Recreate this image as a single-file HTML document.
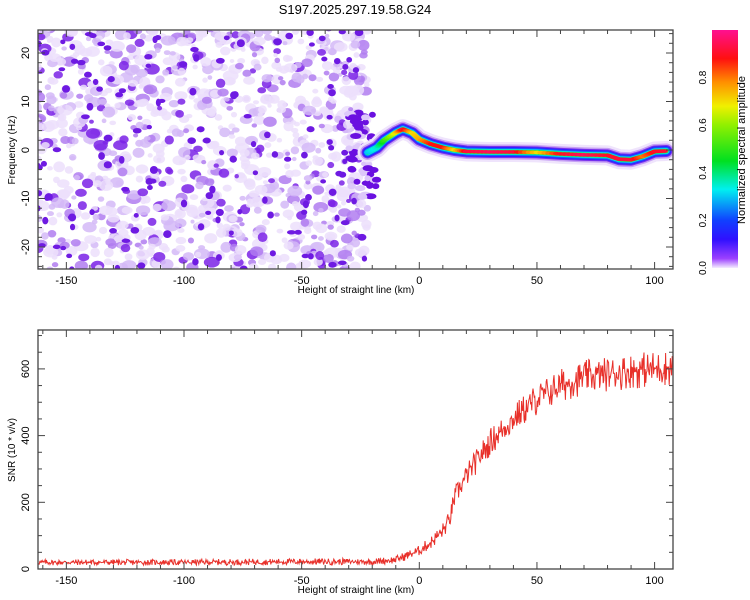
<!DOCTYPE html>
<html><head><meta charset="utf-8"><style>
body{margin:0;background:#fff;font-family:"Liberation Sans",sans-serif}
svg{display:block}
text{font-family:"Liberation Sans",sans-serif;font-size:11px;fill:#000}
</style></head><body>
<svg id="c" width="750" height="600">
<defs>
<linearGradient id="cb" x1="0" y1="1" x2="0" y2="0">
<stop offset="0" stop-color="#f4ecff"/><stop offset="0.04" stop-color="#9b40ff"/><stop offset="0.12" stop-color="#3010ff"/><stop offset="0.2" stop-color="#1040ff"/><stop offset="0.33" stop-color="#00f0f0"/><stop offset="0.45" stop-color="#00e020"/><stop offset="0.6" stop-color="#90f000"/><stop offset="0.68" stop-color="#f0f000"/><stop offset="0.78" stop-color="#ff9000"/><stop offset="0.88" stop-color="#ff1010"/><stop offset="1" stop-color="#ff1090"/>
</linearGradient>
<clipPath id="cp1"><rect x="38" y="30" width="635" height="239"/></clipPath>
<clipPath id="cp2"><rect x="38" y="330" width="635" height="239"/></clipPath>
</defs>
<text x="355" y="14" text-anchor="middle" style="font-size:13px">S197.2025.297.19.58.G24</text>
<g id="topg" clip-path="url(#cp1)"></g>
<g id="bot" clip-path="url(#cp2)"></g>
<g id="axes"></g>
<rect x="712" y="30" width="26" height="238" fill="url(#cb)"/>
<text transform="translate(745,150) rotate(-90)" text-anchor="middle">Normalized spectral amplitude</text>
</svg>
<script>
// ---- data ----
const ridgeHeight=[-22,-18,-15,-10,-7,-3,0,5,10,15,20,30,40,50,60,70,80,85,90,95,100,105];
const ridgeFreq=[-0.5,0.5,2,3.6,4.3,3.5,2.2,1.2,0.5,0,-0.3,-0.4,-0.4,-0.5,-0.8,-1.0,-1.1,-1.9,-2.0,-1.3,-0.3,-0.2];
const ridgeAmp=[0.3,0.35,0.5,0.7,0.92,0.7,0.75,0.88,0.88,0.7,0.92,0.95,0.92,0.7,0.9,0.95,0.9,0.92,0.92,0.8,0.9,0.92];
const snrHeight=[-162,-100,-50,-20,-10,0,5,10,13,15,20,25,30,40,50,60,70,80,90,100,108];
const snrValue=[20,20,22,22,28,55,80,115,150,215,280,330,380,450,510,550,575,585,595,600,605];
const snrNoise=[9,9,10,10,12,16,20,25,28,32,35,38,42,45,50,52,52,52,55,55,55];
const xTicks=[-150,-100,-50,0,50,100];
const fTicks=[-20,-10,0,10,20];
const snrTicks=[0,200,400,600];
const cbTicks=[0.0,0.2,0.4,0.6,0.8];
// ---- scales ----
const X=h=>419.3+(h)*2.353;
const F=f=>150-f*4.85;
const S=v=>569-v*0.3335;
const NS="http://www.w3.org/2000/svg";
function mk(t,a,p){const e=document.createElementNS(NS,t);for(const k in a)e.setAttribute(k,a[k]);(p||document.getElementById('c')).appendChild(e);return e;}
let seed=12345;function rnd(){seed=(seed*1103515245+12345)%2147483648;return seed/2147483648;}
function col(a){const st=[[0,[244,236,255]],[0.04,[155,64,255]],[0.12,[48,16,255]],[0.2,[16,64,255]],[0.33,[0,240,240]],[0.45,[0,224,32]],[0.6,[144,240,0]],[0.68,[240,240,0]],[0.78,[255,144,0]],[0.88,[255,16,16]],[1,[255,16,144]]];
for(let i=1;i<st.length;i++)if(a<=st[i][0]){const t=(a-st[i-1][0])/(st[i][0]-st[i-1][0]);const c=st[i-1][1].map((v,j)=>Math.round(v+(st[i][1][j]-v)*t));return`rgb(${c})`;}return'rgb(255,16,144)';}
const topG=document.getElementById('topg');
// noise texture
const ng=mk('g',{},topG);


for(let i=0;i<1100;i++){const h=-163+rnd()*141;const f=-25.5+rnd()*51;const a=rnd();
 const fill=a<0.5?'#ecdffc':a<0.75?'#d4b8f7':a<0.9?'#b07cf0':'#7a22e6';
 const r=2+rnd()*3.5;
 mk('ellipse',{cx:X(h),cy:F(f),rx:r*(1+rnd()*0.5),ry:r,fill:fill,opacity:0.85},ng);}
for(let i=0;i<140;i++){const h=-163+rnd()*141;const f=-25+rnd()*50;mk('ellipse',{cx:X(h),cy:F(f),rx:2.5+rnd()*2,ry:2+rnd()*2,fill:'#6e1ae2'},ng);}
for(let i=0;i<60;i++){const h=-30+rnd()*12;const f=-10+rnd()*18;mk('ellipse',{cx:X(h),cy:F(f),rx:3+rnd()*3,ry:3,fill:rnd()<0.5?'#6a10e0':'#ddc8fa'},ng);}
// ridge
const pts=ridgeHeight.map((h,i)=>X(h)+','+F(ridgeFreq[i])).join(' ');
[[20,'#efe4fc'],[15,'#c6a0f4'],[12,'#7a30ee'],[10,'#3020ff'],[8,'#1060ff'],[6,'#00e8e8'],[4.5,'#20e040'],[3,'#d0f000']].forEach(([w,c])=>{
 const p=mk('polyline',{points:pts,fill:'none',stroke:c,'stroke-width':w,'stroke-linejoin':'round','stroke-linecap':'round'},topG);
 
 });
for(let i=0;i<ridgeHeight.length-1;i++){for(let k=0;k<6;k++){const t=k/6;
 const h=ridgeHeight[i]+(ridgeHeight[i+1]-ridgeHeight[i])*t;const f=ridgeFreq[i]+(ridgeFreq[i+1]-ridgeFreq[i])*t;const a=ridgeAmp[i]+(ridgeAmp[i+1]-ridgeAmp[i])*t;
 const e=mk('ellipse',{cx:X(h),cy:F(f),rx:3.5,ry:1.8,fill:col(a)},topG);
 
 }}
// SNR line
function interp(arr,h){for(let i=1;i<snrHeight.length;i++)if(h<=snrHeight[i]){const t=(h-snrHeight[i-1])/(snrHeight[i]-snrHeight[i-1]);return arr[i-1]+(arr[i]-arr[i-1])*t;}return arr[arr.length-1];}
let sp=[];seed=777;
for(let px=38;px<=673;px+=0.6){const h=(px-419.3)/2.353;const r=rnd()*2-1;const v=interp(snrValue,h)+Math.sign(r)*Math.pow(Math.abs(r),1.5)*interp(snrNoise,h);sp.push(px.toFixed(1)+','+S(v).toFixed(1));}
const sl=mk('polyline',{points:sp.join(' '),fill:'none',stroke:'#e8302a','stroke-width':1},document.getElementById('bot'));


// axes
const ax=document.getElementById('axes');
function frame(y0,y1,name){const r=mk('rect',{x:38,y:y0,width:635,height:y1-y0,fill:'none',stroke:'#444','stroke-width':1.3},ax);
 
 
 for(let h=-160;h<=100;h+=10){const x=X(h);const L=(h%50==0)?7:4;mk('line',{x1:x,x2:x,y1:y1,y2:y1-L,stroke:'#444'},ax);mk('line',{x1:x,x2:x,y1:y0,y2:y0+L,stroke:'#444'},ax);}
 xTicks.forEach(h=>{const t=mk('text',{x:X(h),y:y1+15,'text-anchor':'middle'},ax);t.textContent=h;
  
  });
 const t=mk('text',{x:356,y:y1+24,'text-anchor':'middle',style:'font-size:10px'},ax);t.textContent='Height of straight line (km)';
 
 }
frame(30,269,'spectrogram-frame');frame(330,569,'snr-frame');
for(let f=-24;f<=24;f+=2){const y=F(f);const L=f%10==0?7:4;mk('line',{x1:38,x2:38+L,y1:y,y2:y,stroke:'#444'},ax);mk('line',{x1:673,x2:673-L,y1:y,y2:y,stroke:'#444'},ax);}
fTicks.forEach(f=>{const t=mk('text',{transform:`translate(29,${F(f)}) rotate(-90)`,'text-anchor':'middle'},ax);t.textContent=f;
 
 });
let tt=mk('text',{transform:'translate(15,150) rotate(-90)','text-anchor':'middle',style:'font-size:10px'},ax);tt.textContent='Frequency (Hz)';


for(let v=0;v<=700;v+=50){const y=S(v);const L=v%200==0?7:4;mk('line',{x1:38,x2:38+L,y1:y,y2:y,stroke:'#444'},ax);mk('line',{x1:673,x2:673-L,y1:y,y2:y,stroke:'#444'},ax);}
snrTicks.forEach(v=>{const t=mk('text',{transform:`translate(29,${S(v)}) rotate(-90)`,'text-anchor':'middle'},ax);t.textContent=v;
 
 });
tt=mk('text',{transform:'translate(15,450) rotate(-90)','text-anchor':'middle',style:'font-size:10px'},ax);tt.textContent='SNR (10 * v/v)';


cbTicks.forEach(v=>{const y=268-v*238;const t=mk('text',{transform:`translate(706,${y}) rotate(-90)`,'text-anchor':'middle',style:'font-size:10px'},ax);t.textContent=v.toFixed(1);
 
 });
</script>
</body></html>
